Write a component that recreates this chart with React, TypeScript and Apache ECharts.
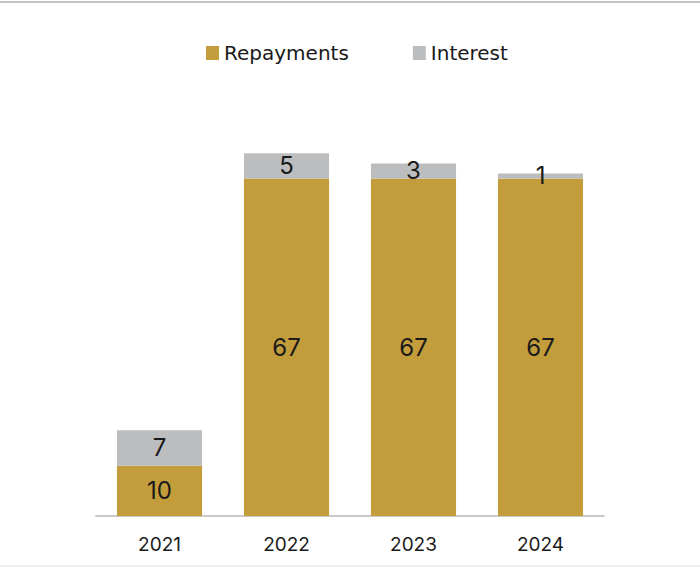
import React, { useEffect, useRef } from "react";
import * as echarts from "echarts";

const categories = ["2021", "2022", "2023", "2024"];
const repayments = [10, 67, 67, 67];
const interest = [7, 5, 3, 1];

const GOLD = "#C39D3B";
const GREY = "#BCBDBF";
const FONT = "Inter, 'Noto Sans', sans-serif";
const LEGEND_FONT = "'DejaVu Sans', sans-serif";

export default function App() {
  const ref = useRef<HTMLDivElement>(null);
  useEffect(() => {
    document.body.style.margin = "0";
    const chart = echarts.init(ref.current!, null, { renderer: "svg" });
    chart.setOption({
      animation: false,
      textStyle: { fontFamily: FONT },
      legend: {
        top: 38,
        left: 201,
        itemWidth: 13,
        itemHeight: 14,
        itemGap: 64,
        icon: "rect",
        textStyle: { fontSize: 20, color: "#1a1a1a", fontFamily: LEGEND_FONT },
        data: ["Repayments", "Interest"],
      },
      grid: { left: 96, right: 96, top: 113, bottom: 52 },
      xAxis: {
        type: "category",
        data: categories,
        axisLine: { lineStyle: { color: "#C8C8C8", width: 2 } },
        axisTick: { show: false },
        axisLabel: { fontSize: 19, color: "#1a1a1a", margin: 19, fontFamily: FONT },
      },
      yAxis: {
        type: "value",
        min: 0,
        max: 80,
        show: false,
        splitLine: { show: false },
      },
      series: [
        {
          name: "Repayments",
          type: "bar",
          stack: "total",
          data: repayments,
          barWidth: "67%",
          itemStyle: { color: GOLD },
          label: {
            show: true,
            position: "inside",
            fontSize: 24,
            color: "#1a1a1a",
            fontFamily: FONT,
          },
        },
        {
          name: "Interest",
          type: "bar",
          stack: "total",
          data: interest,
          barWidth: "67%",
          itemStyle: { color: GREY },
          label: {
            show: true,
            position: "inside",
            fontSize: 24,
            color: "#1a1a1a",
            fontFamily: FONT,
          },
        },
      ],
    });
    return () => chart.dispose();
  }, []);
  return (
    <div style={{ position: "relative", width: 700, height: 568, background: "#fff" }}>
      <div style={{ position: "absolute", left: 0, top: 1, width: 700, height: 2, background: "#C4C4C4" }} />
      <div style={{ position: "absolute", left: 0, top: 565, width: 700, height: 2, background: "#EEEEEE" }} />
      <div ref={ref} style={{ position: "absolute", left: 0, top: 0, width: 700, height: 568 }} />
    </div>
  );
}
